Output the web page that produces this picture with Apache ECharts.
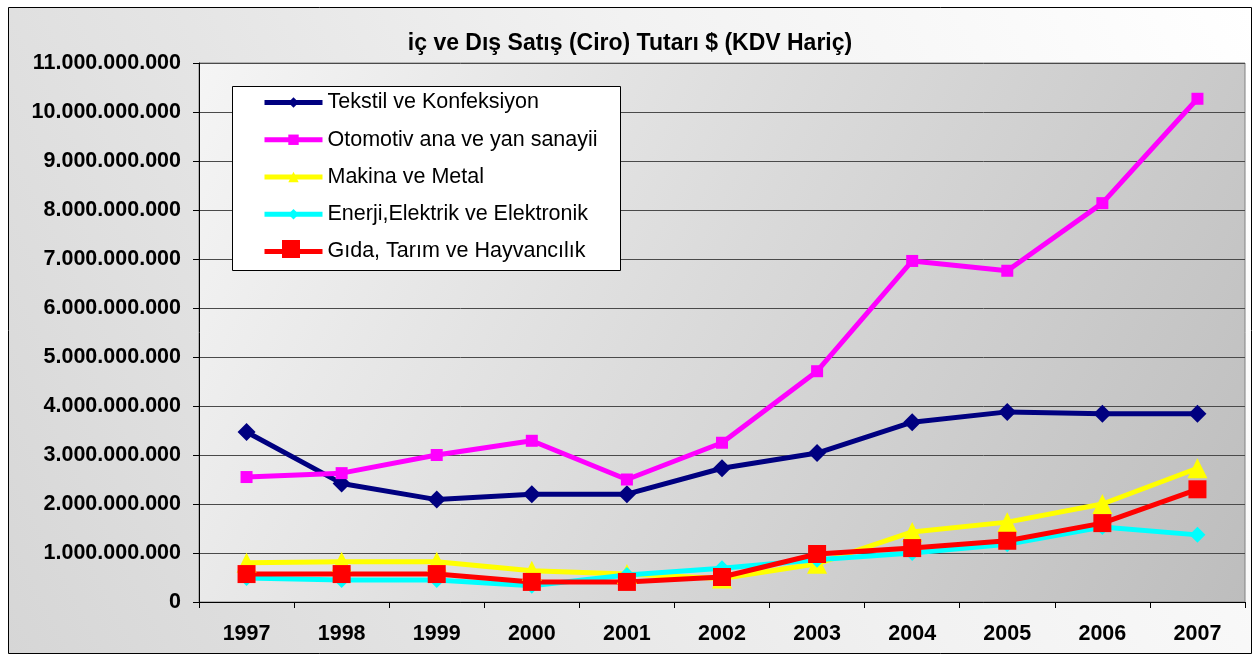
<!DOCTYPE html>
<html><head><meta charset="utf-8">
<script src="https://cdn.jsdelivr.net/npm/echarts@6/dist/echarts.min.js"></script>
<style>html,body{margin:0;padding:0;background:#fff}#c{width:1254px;height:655px}</style>
</head><body><div id="c"></div>
<script>
const years = ['1997','1998','1999','2000','2001','2002','2003','2004','2005','2006','2007'];
const tekstil  = [3.47e9, 2.42e9, 2.09e9, 2.20e9, 2.20e9, 2.73e9, 3.04e9, 3.67e9, 3.88e9, 3.84e9, 3.84e9];
const otomotiv = [2.55e9, 2.63e9, 3.00e9, 3.29e9, 2.50e9, 3.25e9, 4.71e9, 6.96e9, 6.76e9, 8.14e9, 10.27e9];
const makina   = [0.80e9, 0.82e9, 0.82e9, 0.64e9, 0.57e9, 0.48e9, 0.78e9, 1.43e9, 1.63e9, 2.00e9, 2.73e9];
const enerji   = [0.49e9, 0.45e9, 0.45e9, 0.33e9, 0.55e9, 0.69e9, 0.86e9, 1.00e9, 1.18e9, 1.53e9, 1.37e9];
const gida     = [0.57e9, 0.57e9, 0.57e9, 0.41e9, 0.41e9, 0.51e9, 0.98e9, 1.10e9, 1.25e9, 1.61e9, 2.30e9];
const names = ['Tekstil ve Konfeksiyon','Otomotiv ana ve yan sanayii','Makina ve Metal','Enerji,Elektrik ve Elektronik','Gıda, Tarım ve Hayvancılık'];
const titleText = 'iç ve Dış Satış (Ciro) Tutarı $ (KDV Hariç)';

const FONT = '"Liberation Sans", Arial, sans-serif';
const chart = echarts.init(document.getElementById('c'));
function fmt(v){ return String(Math.round(v)).replace(/\B(?=(\d{3})+(?!\d))/g, '.'); }
function mk(name, data, color, symbol, size){
  return {name, type:'line', data, color, symbol, symbolSize:size, showSymbol:true,
    lineStyle:{width:5, color}, itemStyle:{color}, emphasis:{disabled:true}, animation:false};
}
chart.setOption({
  animation:false,
  graphic:[{
    type:'rect', z:-10, shape:{x:8.5,y:7.5,width:1243,height:646},
    style:{stroke:'#000', lineWidth:1,
      fill:new echarts.graphic.LinearGradient(0,1,1,0,[{offset:0,color:'#d6d6d6'},{offset:0.6,color:'#f2f2f2'},{offset:1,color:'#ffffff'}])}
  },{
    type:'rect', z:50, shape:{x:232.5,y:86.5,width:388,height:184},
    style:{fill:'#fff', stroke:'#000', lineWidth:1}
  },{
    type:'rect', z:70, shape:{x:282,y:240,width:18,height:18},
    style:{fill:'#ff0000'}
  }],
  title:{text:titleText, left:630, textAlign:'center', top:32, padding:0,
    textStyle:{fontFamily:FONT, fontWeight:'bold', fontSize:23, color:'#000'}},
  legend:{orient:'vertical', left:262, top:91.5, padding:0, z:60, itemWidth:58, itemHeight:13, itemGap:15.25,
    lineStyle:{width:5},
    textStyle:{fontFamily:FONT, fontSize:21.5, color:'#000', lineHeight:22},
    data:names},
  grid:{left:199, top:63, right:9, bottom:53, show:true, borderColor:'#808080', borderWidth:1,
    backgroundColor:new echarts.graphic.LinearGradient(0,0,1,1,[{offset:0,color:'#f5f5f5'},{offset:1,color:'#bdbdbd'}])},
  xAxis:{type:'category', data:years, boundaryGap:true,
    axisLine:{lineStyle:{color:'#000', width:1}},
    axisTick:{show:true, length:6, lineStyle:{color:'#000'}},
    axisLabel:{margin:21, fontFamily:FONT, fontWeight:'bold', fontSize:21.5, color:'#000'}},
  yAxis:{type:'value', min:0, max:11e9, interval:1e9,
    axisLine:{show:true, lineStyle:{color:'#000', width:1}},
    axisTick:{show:true, length:6, lineStyle:{color:'#000'}},
    splitLine:{lineStyle:{color:'#4a4a4a', width:1}},
    axisLabel:{margin:18, fontFamily:FONT, fontWeight:'bold', fontSize:21.5, color:'#000', formatter:fmt}},
  series:[
    mk(names[0], tekstil, '#000080', 'diamond', 18),
    mk(names[1], otomotiv, '#ff00ff', 'rect', 12),
    mk(names[2], makina, '#ffff00', 'triangle', 20),
    mk(names[3], enerji, '#00ffff', 'diamond', 16),
    mk(names[4], gida, '#ff0000', 'rect', 18)
  ]
});
</script></body></html>
